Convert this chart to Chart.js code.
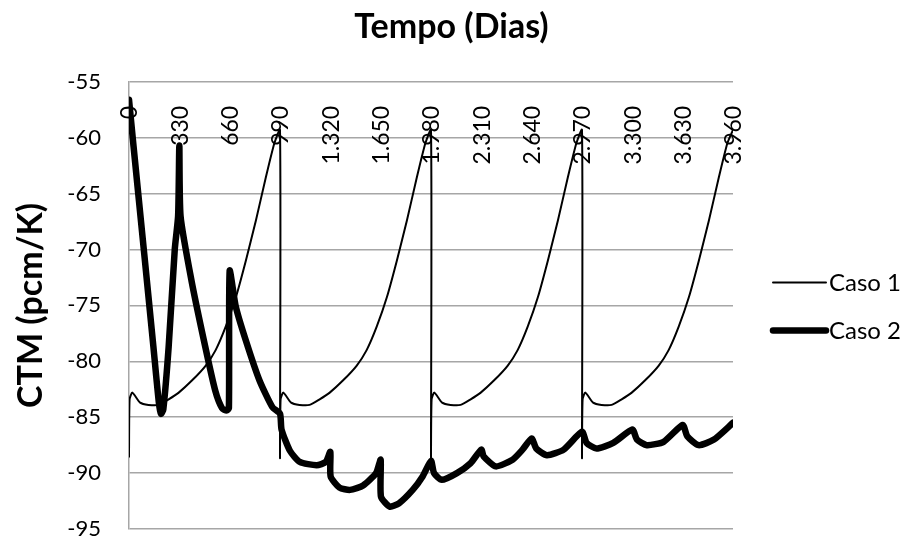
<!DOCTYPE html>
<html>
<head>
<meta charset="utf-8">
<script src="https://cdn.jsdelivr.net/npm/chart.js@4.4.1/dist/chart.umd.min.js"></script>
<style>
  html, body { margin: 0; padding: 0; background: #fff; }
  #wrap { width: 903px; height: 541px; }
</style>
</head>
<body>
<div id="wrap"><canvas id="grafico"></canvas></div>
<script>
// eixo x (dias) - rotulos no topo
var xTicks = [0, 330, 660, 990, 1320, 1650, 1980, 2310, 2640, 2970, 3300, 3630, 3960];
var xTickLabels = ['0', '330', '660', '990', '1.320', '1.650', '1.980', '2.310', '2.640', '2.970', '3.300', '3.630', '3.960'];

// Caso 1
var caso1Dias = [0, 4, 22, 73, 128, 194, 260, 326, 414, 502, 568, 634, 700, 766, 832, 898, 953, 990,
    990, 994, 1012, 1063, 1118, 1184, 1250, 1316, 1404, 1492, 1558, 1624, 1690, 1756, 1822, 1888, 1943, 1980,
    1980, 1984, 2002, 2053, 2108, 2174, 2240, 2306, 2394, 2482, 2548, 2614, 2680, 2746, 2812, 2878, 2933, 2970,
    2970, 2974, 2992, 3043, 3098, 3164, 3230, 3296, 3384, 3472, 3538, 3604, 3670, 3736, 3802, 3868, 3923, 3960];
var caso1CTM = [-88.6, -83.4, -82.8, -83.7, -83.9, -83.9, -83.4, -82.8, -81.7, -80.4, -79.0, -76.9, -74.3, -71.0, -67.4, -63.5, -60.5, -59.3,
    -88.6, -83.4, -82.8, -83.7, -83.9, -83.9, -83.4, -82.8, -81.7, -80.4, -79.0, -76.9, -74.3, -71.0, -67.4, -63.5, -60.5, -59.3,
    -88.6, -83.4, -82.8, -83.7, -83.9, -83.9, -83.4, -82.8, -81.7, -80.4, -79.0, -76.9, -74.3, -71.0, -67.4, -63.5, -60.5, -59.3,
    -88.6, -83.4, -82.8, -83.7, -83.9, -83.9, -83.4, -82.8, -81.7, -80.4, -79.0, -76.9, -74.3, -71.0, -67.4, -63.5, -60.5, -59.3];

// Caso 2
var caso2Dias = [0, 30, 100, 160, 195, 210, 225, 260, 300, 322, 330, 338, 410, 500, 565, 610, 640, 655, 660,
    700, 765, 855, 940, 990, 1000, 1055, 1120, 1230, 1290, 1320, 1322, 1380, 1450, 1535, 1620, 1650, 1652,
    1710, 1770, 1860, 1925, 1980, 2000, 2050, 2150, 2240, 2310, 2325, 2405, 2515, 2580, 2640, 2670, 2740,
    2850, 2970, 3000, 3065, 3175, 3300, 3330, 3395, 3505, 3630, 3660, 3735, 3835, 3960];
var caso2CTM = [-56.6, -60.8, -70.4, -78.7, -83.6, -84.7, -84.3, -78.7, -70.0, -67.0, -60.7, -67.0, -72.8, -78.7, -82.6, -84.2, -84.4, -84.2, -71.9,
    -75.1, -78.1, -81.7, -84.1, -84.7, -86.1, -88.0, -89.0, -89.3, -89.0, -88.1, -90.3, -91.3, -91.5, -91.1, -90.0, -88.8, -92.1,
    -93.0, -92.7, -91.5, -90.3, -88.9, -90.0, -90.6, -90.0, -89.1, -87.9, -88.5, -89.4, -88.8, -87.9, -86.9, -87.8, -88.4,
    -87.9, -86.3, -87.3, -87.8, -87.3, -86.1, -87.0, -87.5, -87.2, -85.7, -86.7, -87.5, -87.0, -85.5];

function pontos(dias, vals) {
    var out = [];
    for (var i = 0; i < dias.length; i++) {
        out.push({x: dias[i], y: vals[i]});
    }
    return out;
}

var fonte = 'Lato, "Open Sans", sans-serif';

// rotulos do eixo x desenhados dentro da area do grafico
var rotulosX = {
    id: 'rotulosX',
    beforeDatasetsDraw: function(chart) {
        var ctx = chart.ctx;
        var sx = chart.scales.x;
        var top = chart.chartArea.top + 24;
        ctx.save();
        ctx.fillStyle = '#000';
        ctx.font = '23px ' + fonte;
        ctx.textAlign = 'right';
        ctx.textBaseline = 'middle';
        for (var i = 0; i < xTicks.length; i++) {
            var px = sx.getPixelForValue(xTicks[i]);
            ctx.save();
            ctx.translate(px, top);
            ctx.rotate(-Math.PI / 2);
            ctx.fillText(xTickLabels[i], 0, 1);
            ctx.restore();
        }
        ctx.restore();
    }
};

// legenda a direita, como caixa do layout
var legenda = {
    id: 'legendaLateral',
    beforeInit: function(chart) {
        var caixa = {
            position: 'right',
            weight: 1000,
            fullSize: false,
            options: {},
            isHorizontal: function() { return false; },
            update: function(maxWidth, maxHeight) {
                this.width = 170;
                this.height = maxHeight;
            },
            draw: function() {
                var ctx = chart.ctx;
                var area = chart.chartArea;
                var meio = (area.top + area.bottom) / 2;
                var x0 = this.left + 40;
                ctx.save();
                ctx.font = '24px ' + fonte;
                ctx.textBaseline = 'middle';
                ctx.textAlign = 'left';
                chart.data.datasets.forEach(function(ds, i) {
                    var y = meio - 23 + i * 48;
                    ctx.strokeStyle = ds.borderColor;
                    ctx.lineWidth = ds.borderWidth;
                    ctx.lineCap = 'round';
                    ctx.beginPath();
                    ctx.moveTo(x0, y);
                    ctx.lineTo(x0 + 53, y);
                    ctx.stroke();
                    ctx.fillStyle = '#000';
                    ctx.fillText(ds.label, x0 + 56, y + 1);
                });
                ctx.restore();
            }
        };
        Chart.layouts.addBox(chart, caixa);
    }
};

var grafico = new Chart(document.getElementById('grafico').getContext('2d'), {
    type: 'line',
    data: {
        datasets: [{
            label: 'Caso 1',
            data: pontos(caso1Dias, caso1CTM),
            borderColor: '#000',
            borderWidth: 2,
            pointRadius: 0,
            tension: 0.2,
            fill: false
        }, {
            label: 'Caso 2',
            data: pontos(caso2Dias, caso2CTM),
            borderColor: '#000',
            borderWidth: 6.5,
            borderJoinStyle: 'round',
            borderCapStyle: 'round',
            pointRadius: 0,
            tension: 0.2,
            fill: false
        }]
    },
    options: {
        responsive: true,
        maintainAspectRatio: false,
        animation: false,
        layout: {
            padding: {left: 0, right: 0, top: 0, bottom: 12}
        },
        plugins: {
            legend: {display: false},
            tooltip: {enabled: false},
            title: {
                display: true,
                text: 'Tempo (Dias)',
                color: '#000',
                font: {family: fonte, size: 34, weight: 'bold'},
                padding: {top: 7, bottom: 34}
            }
        },
        scales: {
            x: {
                type: 'linear',
                position: 'top',
                min: 0,
                max: 3960,
                display: false
            },
            y: {
                min: -95,
                max: -55,
                ticks: {
                    stepSize: 5,
                    color: '#000',
                    padding: 28,
                    font: {family: fonte, size: 22}
                },
                grid: {
                    color: '#a6a6a6',
                    lineWidth: 1.5,
                    drawTicks: false
                },
                border: {color: '#a6a6a6', width: 1.5},
                title: {
                    display: true,
                    text: 'CTM (pcm/K)',
                    color: '#000',
                    font: {family: fonte, size: 34, weight: 'bold'},
                    padding: {top: 11, bottom: 0}
                },
                afterFit: function(scale) {
                    scale.width = 129;
                    scale.paddingTop = 0;
                    scale.paddingBottom = 0;
                }
            }
        }
    },
    plugins: [rotulosX, legenda]
});
</script>
</body>
</html>
